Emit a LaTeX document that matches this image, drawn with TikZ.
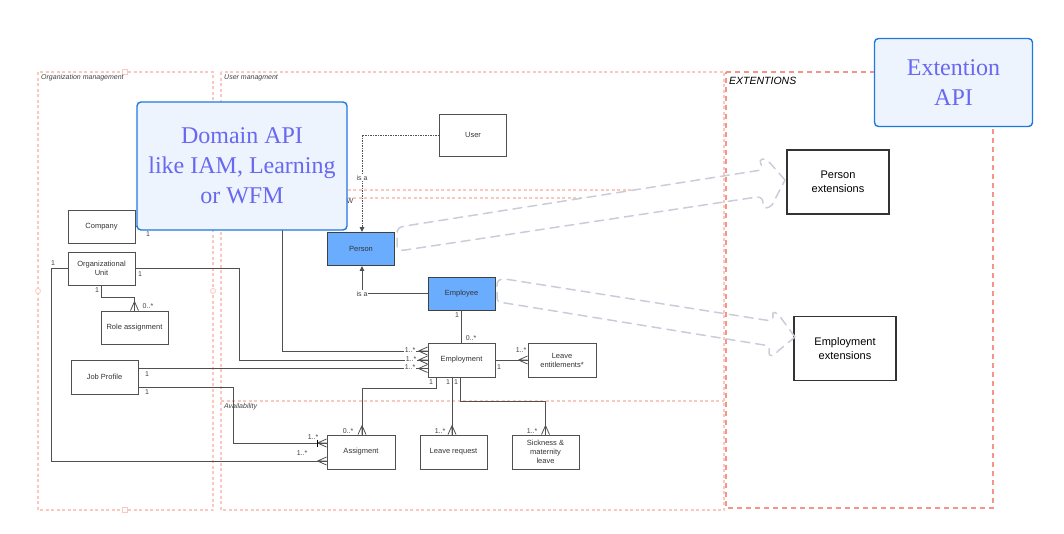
\documentclass[tikz,border=0pt]{standalone}
\usepackage{fontspec}
\setmainfont{Liberation Sans}
\newfontfamily\apifont{Liberation Serif}
\usetikzlibrary{arrows.meta}
\definecolor{pinkL}{RGB}{251,200,192}
\definecolor{pinkD}{RGB}{243,150,136}
\definecolor{apiblue}{RGB}{30,120,225}
\definecolor{apifill}{RGB}{237,244,253}
\definecolor{apitext}{RGB}{104,104,240}
\definecolor{entblue}{RGB}{106,173,255}
\definecolor{bandgray}{RGB}{200,205,216}
\definecolor{linegray}{RGB}{80,80,80}
\begin{document}
\begin{tikzpicture}[x=1pt,y=-1pt,
 ent/.style={draw=linegray, line width=0.9pt, fill=white, minimum width=67pt, minimum height=33pt, inner sep=1pt, align=center, font=\fontsize{7.5}{9}\selectfont, text=black!80},
 entb/.style={ent, fill=entblue, draw=black!75},
 extbox/.style={draw=black!80, line width=1.2pt, fill=white, minimum width=102pt, minimum height=64pt, align=center, font=\fontsize{11}{14}\selectfont},
 api/.style={draw=apiblue, line width=1.4pt, fill=apifill, rounded corners=4pt, align=center, text=apitext, font=\apifont\fontsize{24}{30}\selectfont},
 conn/.style={draw=linegray, line width=0.9pt},
 mult/.style={font=\fontsize{7}{8}\selectfont, text=black!75, inner sep=0.5pt},
 cont/.style={draw=pinkL, line width=1.2pt, dash pattern=on 3pt off 2.5pt},
 contd/.style={draw=pinkD, line width=1.1pt, dash pattern=on 5pt off 4pt},
 band/.style={draw=bandgray, line width=1.5pt, dash pattern=on 9pt off 6pt, line cap=round},
 clabel/.style={font=\fontsize{7}{8}\selectfont\itshape, text=black!75, anchor=west, inner sep=0pt},
 isa/.style={-{Triangle[length=5pt,width=4.5pt]}},
 crowR/.pic={\draw[linegray,line width=0.8pt] (-9,0) -- (0,-4) (-9,0) -- (0,0) (-9,0) -- (0,4);},
 crowRbar/.pic={\draw[linegray,line width=0.8pt] (-9,0) -- (0,-4) (-9,0) -- (0,0) (-9,0) -- (0,4);
                \draw[black,line width=1.2pt] (-9,-3.5) -- (-9,3.5);},
 crowD/.pic={\draw[linegray,line width=0.8pt] (0,-9) -- (-4,0) (0,-9) -- (0,0) (0,-9) -- (4,0);}
]
\useasboundingbox (0,0) rectangle (1064,533);

% containers
\draw[cont] (38,72) rectangle (213,510);
\draw[cont] (221,72) rectangle (724,510);
\draw[cont] (221,401) -- (724,401);
\draw[cont] (221,190) -- (633,190);
\draw[cont] (221,198) -- (583,198);
\draw[contd] (726,72) -- (993,72) -- (993,508) -- (726,508) -- cycle;
\draw[pinkL, line width=0.8pt, fill=white] (122.5,69.5) rectangle ++(5,5);
\draw[pinkL, line width=0.8pt, fill=white] (122.5,507.5) rectangle ++(5,5);
\draw[pinkL, line width=0.8pt, fill=white] (38,291) circle (2.5);
\draw[pinkL, line width=0.8pt, fill=white] (213,291) circle (2.5);
\node[clabel] (lorg) at (41,78) {Organization management};
\node[clabel] (lusr) at (224,78) {User managment};
\node[clabel] (lav) at (224,407) {Availability};
\node[clabel, font=\fontsize{10.5}{12}\selectfont\itshape, text=black] (lext) at (729,81) {EXTENTIONS};

% entities
\node[ent] (Company) at (101.5,226.5) {Company};
\node[ent] (OrgUnit) at (101.5,268.5) {Organizational\\Unit};
\node[ent] (Role) at (134.5,327.5) {Role assignment};
\node[ent, minimum height=34pt] (Job) at (104.5,377) {Job Profile};
\node[ent, minimum width=67pt, minimum height=42pt] (User) at (473,135) {User};
\node[entb] (Person) at (361,249) {Person};
\node[entb] (Employee) at (461.5,293.5) {Employee};
\node[ent, minimum height=34pt] (Employment) at (461.5,360) {Employment};
\node[ent, minimum width=68pt, minimum height=34pt] (LeaveEnt) at (562,360) {Leave\\entitlements*};
\node[ent, minimum width=68pt, minimum height=34pt] (Assig) at (361,452) {Assigment};
\node[ent, minimum height=34pt] (LeaveReq) at (453.5,452) {Leave request};
\node[ent, minimum height=34pt] (Sick) at (545.5,452) {Sickness \&\\maternity\\leave};
\node[extbox] (PersonExt) at (838,182) {Person\\extensions};
\node[extbox] (EmplExt) at (845,348.5) {Employment\\extensions};

% connectors
\draw[conn, isa, dash pattern=on 1.5pt off 1pt] (User.west) -| ([xshift=1pt]Person.north)
   node[pos=0.72, fill=white, mult] {is a};
\draw[conn, isa] (Employee.west) -| ([xshift=1pt]Person.south)
   node[pos=0.5, fill=white, mult] {is a};
\draw[conn] (Employee.south) -- (Employment.north);
\draw[conn] (Employment.east) -- (LeaveEnt.west);
\pic at (LeaveEnt.west) {crowR};
\draw[conn] (Company.east) -| (282,351) -- ([yshift=9pt]Employment.west);
\pic at ([yshift=9pt]Employment.west) {crowR};
\draw[conn] (OrgUnit.east) -| (239,360) -- (Employment.west);
\pic at (Employment.west) {crowR};
\draw[conn] ([yshift=8.5pt]Job.east) -- ([yshift=-8.5pt]Employment.west);
\pic at ([yshift=-8.5pt]Employment.west) {crowR};
\draw[conn] ([yshift=-10pt]Job.east) -| (233,443) -- ([yshift=9pt]Assig.west);
\pic at ([yshift=9pt]Assig.west) {crowRbar};
\draw[conn] (OrgUnit.west) -| (51,461) -- ([yshift=-9pt]Assig.west);
\pic at ([yshift=-9pt]Assig.west) {crowR};
\draw[conn] (OrgUnit.south) -- (101.5,297) -| (Role.north);
\pic at (Role.north) {crowD};
\draw[conn] ([xshift=-25.5pt]Employment.south) -- (436,388) -| ([xshift=1pt]Assig.north);
\pic at ([xshift=1pt]Assig.north) {crowD};
\draw[conn] ([xshift=-9.5pt]Employment.south) -- ([xshift=-1.5pt]LeaveReq.north);
\pic at ([xshift=-1.5pt]LeaveReq.north) {crowD};
\draw[conn] ([xshift=-1pt]Employment.south) -- (460.5,401) -| (Sick.north);
\pic at (Sick.north) {crowD};

% multiplicities
\node[mult] (m1) at (148,234) {1};
\node[mult] (m2) at (140,274) {1};
\node[mult] (m3) at (53,263) {1};
\node[mult] (m4) at (97,290) {1};
\node[mult] (m5) at (148,306) {0..*};
\node[mult] (m6) at (147,374) {1};
\node[mult] (m7) at (147,392) {1};
\node[mult, fill=white] (m8) at (410,350) {1..*};
\node[mult, fill=white] (m9) at (411,359) {1..*};
\node[mult, fill=white] (m10) at (410,367.5) {1..*};
\node[mult] (m11) at (431,382) {1};
\node[mult] (m12) at (448,382) {1};
\node[mult] (m13) at (456,382) {1};
\node[mult] (m14) at (457,315) {1};
\node[mult] (m15) at (471,338) {0..*};
\node[mult] (m16) at (499,367) {1};
\node[mult] (m17) at (521,350) {1..*};
\node[mult] (m18) at (348,431) {0..*};
\node[mult] (m19) at (313,437) {1..*};
\node[mult] (m20) at (302,453) {1..*};
\node[mult] (m21) at (440,431) {1..*};
\node[mult] (m22) at (532,431) {1..*};
\node[mult] (mw) at (350,201) {W};

% extension bands
\draw[band] (785,180) -- (770,163) .. controls (765,157) and (758,158) .. (761,164)
  .. controls (763,168) and (760,171) .. (755,171) -- (405,226)
  .. controls (399,227) and (397,229) .. (397,234) -- (397,245)
  .. controls (397,249) and (399,251) .. (405,250) -- (757,197)
  .. controls (762,197) and (763,200) .. (763,204)
  .. controls (763,209) and (768,209) .. (772,205) -- cycle;
\draw[band] (795,337) -- (781,318) .. controls (777,311) and (771,311) .. (773,316)
  .. controls (774,320) and (770,321) .. (765,320) -- (505,279)
  .. controls (499,279) and (497,281) .. (497,285) -- (497,297)
  .. controls (497,301) and (499,303) .. (505,303) -- (764,345)
  .. controls (769,346) and (770,349) .. (769,352)
  .. controls (768,357) and (774,357) .. (778,351) -- cycle;

% API boxes
\node[api, minimum width=210pt, minimum height=128pt] (Domain) at (242,166) {Domain API\\like IAM, Learning\\or WFM};
\node[api, minimum width=158pt, minimum height=88pt] (ExtAPI) at (953.5,82.5) {Extention\\API};
\end{tikzpicture}
\end{document}
